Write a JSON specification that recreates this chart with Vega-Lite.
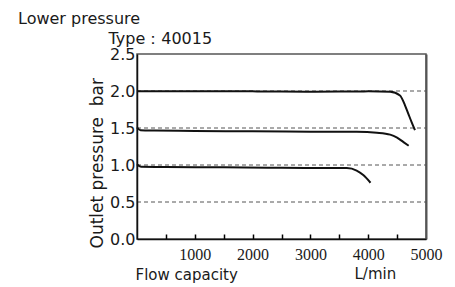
{
  "$schema": "https://vega.github.io/schema/vega-lite/v6.json",
  "width": 289,
  "height": 185,
  "autosize": "none",
  "padding": {"left": 137, "top": 54, "right": 29, "bottom": 48},
  "config": {"view": {"stroke": "#555555", "strokeWidth": 1.5}, "background": "white"},
  "title": {
    "text": "Lower pressure",
    "anchor": "start",
    "frame": "group",
    "dx": -119,
    "offset": 3,
    "font": "DejaVu Sans",
    "fontSize": 16,
    "fontWeight": "normal",
    "color": "#1a1a1a"
  },
  "layer": [
    {
      "data": {"values": [{"p": 0.5}, {"p": 1.0}, {"p": 1.5}, {"p": 2.0}]},
      "mark": {"type": "rule", "color": "#555555", "strokeWidth": 1, "strokeDash": [4, 3]},
      "encoding": {
        "y": {
          "field": "p",
          "type": "quantitative",
          "scale": {"domain": [0, 2.5], "nice": false},
          "axis": {
            "orient": "right",
            "domain": true,
            "domainColor": "#555555",
            "domainWidth": 2,
            "ticks": false,
            "labels": false,
            "grid": false,
            "title": "L/min",
            "titleAngle": 0,
            "titleX": -72,
            "titleY": 224,
            "titleAlign": "left",
            "titleBaseline": "alphabetic",
            "titleFont": "DejaVu Sans",
            "titleFontSize": 15,
            "titleFontWeight": "normal",
            "titleColor": "#1a1a1a"
          }
        },
        "x": {
          "datum": 0,
          "type": "quantitative",
          "scale": {"domain": [0, 5000], "nice": false},
          "axis": {
            "orient": "top",
            "offset": -185,
            "zindex": 1,
            "values": [500, 1000, 1500, 2000, 2500, 3000, 3500, 4000, 4500],
            "domain": false,
            "ticks": true,
            "tickSize": 5,
            "tickColor": "#000000",
            "tickWidth": 1.5,
            "labels": false,
            "grid": false,
            "title": "Type：40015",
            "titleX": -29,
            "titleY": -196,
            "titleAlign": "left",
            "titleBaseline": "alphabetic",
            "titleFont": "DejaVu Sans",
            "titleFontSize": 16,
            "titleFontWeight": "normal",
            "titleColor": "#1a1a1a"
          }
        },
        "x2": {"datum": 5000}
      }
    },
    {
      "data": {
        "values": [
          {"set": "2.0", "flow": 0, "pressure": 1.995},
          {"set": "2.0", "flow": 1000, "pressure": 1.995},
          {"set": "2.0", "flow": 2000, "pressure": 1.995},
          {"set": "2.0", "flow": 3000, "pressure": 1.99},
          {"set": "2.0", "flow": 4000, "pressure": 1.995},
          {"set": "2.0", "flow": 4380, "pressure": 1.99},
          {"set": "2.0", "flow": 4550, "pressure": 1.94},
          {"set": "2.0", "flow": 4640, "pressure": 1.8},
          {"set": "2.0", "flow": 4700, "pressure": 1.68},
          {"set": "2.0", "flow": 4756, "pressure": 1.57},
          {"set": "2.0", "flow": 4810, "pressure": 1.47},
          {"set": "1.5", "flow": 0, "pressure": 1.51},
          {"set": "1.5", "flow": 60, "pressure": 1.47},
          {"set": "1.5", "flow": 300, "pressure": 1.465},
          {"set": "1.5", "flow": 1000, "pressure": 1.46},
          {"set": "1.5", "flow": 2000, "pressure": 1.455},
          {"set": "1.5", "flow": 3000, "pressure": 1.45},
          {"set": "1.5", "flow": 3800, "pressure": 1.448},
          {"set": "1.5", "flow": 4150, "pressure": 1.435},
          {"set": "1.5", "flow": 4380, "pressure": 1.41},
          {"set": "1.5", "flow": 4500, "pressure": 1.37},
          {"set": "1.5", "flow": 4610, "pressure": 1.31},
          {"set": "1.5", "flow": 4700, "pressure": 1.26},
          {"set": "1.0", "flow": 0, "pressure": 1.01},
          {"set": "1.0", "flow": 70, "pressure": 0.975},
          {"set": "1.0", "flow": 500, "pressure": 0.972},
          {"set": "1.0", "flow": 1500, "pressure": 0.968},
          {"set": "1.0", "flow": 2500, "pressure": 0.962},
          {"set": "1.0", "flow": 3300, "pressure": 0.96},
          {"set": "1.0", "flow": 3630, "pressure": 0.958},
          {"set": "1.0", "flow": 3800, "pressure": 0.925},
          {"set": "1.0", "flow": 3920, "pressure": 0.86},
          {"set": "1.0", "flow": 4040, "pressure": 0.76}
        ]
      },
      "mark": {"type": "line", "color": "#111111", "strokeWidth": 2, "interpolate": "monotone"},
      "encoding": {
        "detail": {"field": "set", "type": "nominal"},
        "x": {
          "field": "flow",
          "type": "quantitative",
          "scale": {"domain": [0, 5000], "nice": false},
          "axis": {
            "orient": "bottom",
            "zindex": 1,
            "values": [1000, 2000, 3000, 4000, 5000],
            "format": "d",
            "labelFlush": false,
            "labelOverlap": false,
            "labelFont": "Liberation Sans Narrow",
            "labelFontSize": 16,
            "labelColor": "#1a1a1a",
            "labelPadding": 7,
            "ticks": false,
            "domain": true,
            "domainColor": "#111111",
            "domainWidth": 1.5,
            "grid": false,
            "title": "Flow capacity",
            "titleX": -2,
            "titleY": 40,
            "titleAlign": "left",
            "titleBaseline": "alphabetic",
            "titleFont": "DejaVu Sans",
            "titleFontSize": 15,
            "titleFontWeight": "normal",
            "titleColor": "#1a1a1a"
          }
        },
        "y": {
          "field": "pressure",
          "type": "quantitative",
          "scale": {"domain": [0, 2.5], "nice": false},
          "axis": {
            "orient": "left",
            "zindex": 1,
            "values": [0, 0.5, 1, 1.5, 2, 2.5],
            "format": ".1f",
            "labelFlush": false,
            "labelOverlap": false,
            "labelFont": "DejaVu Sans",
            "labelFontSize": 16,
            "labelColor": "#1a1a1a",
            "labelPadding": 2,
            "ticks": false,
            "domain": true,
            "domainColor": "#111111",
            "domainWidth": 1.5,
            "grid": false,
            "title": "Outlet pressure\u00a0 bar",
            "titleAngle": -90,
            "titleX": -35,
            "titleY": 194,
            "titleAlign": "left",
            "titleBaseline": "alphabetic",
            "titleFont": "DejaVu Sans",
            "titleFontSize": 17,
            "titleFontWeight": "normal",
            "titleColor": "#1a1a1a"
          }
        }
      }
    }
  ],
  "resolve": {"axis": {"x": "independent", "y": "independent"}}
}
